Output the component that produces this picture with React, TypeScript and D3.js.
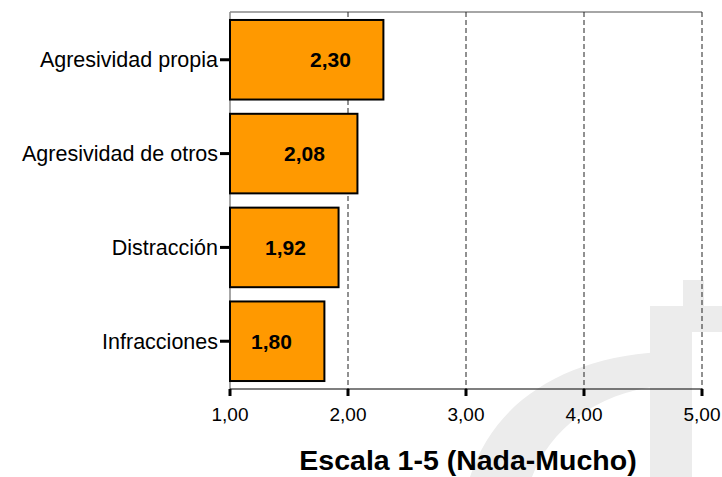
import React from "react";
import * as d3 from "d3";

const categories = ["Agresividad propia", "Agresividad de otros", "Distracción", "Infracciones"];
const values = [2.3, 2.08, 1.92, 1.8];
const valueLabels = ["2,30", "2,08", "1,92", "1,80"];
const xTicks = [1, 2, 3, 4, 5];
const xTickLabels = ["1,00", "2,00", "3,00", "4,00", "5,00"];
const axisTitle = "Escala 1-5 (Nada-Mucho)";

const W = 722;
const H = 477;
const FONT = "'Liberation Sans', Arial, sans-serif";

export default function App() {
  const left = 230;
  const right = 702;
  const top = 12;
  const bottom = 389;
  const x = d3.scaleLinear().domain([1, 5]).range([left, right]);
  const y = d3
    .scaleBand<string>()
    .domain(categories)
    .range([top, bottom])
    .paddingInner(0.152)
    .paddingOuter(0.085);

  return (
    <svg
      width={W}
      height={H}
      style={{ position: "absolute", left: 0, top: 0, background: "#fff" }}
      fontFamily={FONT}
    >
      {/* watermark */}
      <g fill="#ececec" stroke="none">
        <path d="M 470 477 C 495 400, 565 358, 660 352 L 660 386 C 595 393, 550 430, 532 477 Z" />
        <rect x={650} y={318} width={42} height={159} />
        <rect x={683} y={280} width={21} height={40} />
        <rect x={650} y={306} width={72} height={26} />
      </g>

      {/* frame top */}
      <line x1={left} x2={right} y1={top} y2={top} stroke="#888" strokeWidth={1.5} />
      {/* left axis line */}
      <line x1={left} x2={left} y1={top} y2={bottom} stroke="#888" strokeWidth={1.5} />

      {/* grid lines */}
      {xTicks.slice(1).map((t) => (
        <line
          key={t}
          x1={x(t)}
          x2={x(t)}
          y1={top}
          y2={bottom}
          stroke="#222"
          strokeWidth={1}
          strokeDasharray="5,3"
        />
      ))}

      {/* bars */}
      {categories.map((c, i) => (
        <rect
          key={c}
          x={x(1)}
          y={y(c)!}
          width={x(values[i]) - x(1)}
          height={y.bandwidth()}
          fill="#FF9900"
          stroke="#000"
          strokeWidth={2}
        />
      ))}

      {/* value labels */}
      {categories.map((c, i) => (
        <text
          key={c}
          x={x(values[i]) - 53}
          y={y(c)! + y.bandwidth() / 2}
          dy="0.36em"
          textAnchor="middle"
          fontWeight="bold"
          fontSize={21}
          fill="#000"
        >
          {valueLabels[i]}
        </text>
      ))}

      {/* x axis */}
      <line x1={left} x2={right} y1={bottom} y2={bottom} stroke="#000" strokeWidth={1.2} />
      {xTicks.map((t, i) => (
        <g key={t}>
          <rect x={x(t) - 1.5} y={bottom} width={3} height={7} fill="#000" />
          <text x={x(t)} y={421} textAnchor="middle" fontSize={19} fill="#000">
            {xTickLabels[i]}
          </text>
        </g>
      ))}

      {/* y axis ticks and labels */}
      {categories.map((c) => (
        <g key={c}>
          <rect x={left - 10} y={y(c)! + y.bandwidth() / 2 - 1.5} width={10} height={3} fill="#000" />
          <text
            x={left - 12}
            y={y(c)! + y.bandwidth() / 2}
            dy="0.36em"
            textAnchor="end"
            fontSize={21.5}
            fill="#000"
          >
            {c}
          </text>
        </g>
      ))}

      {/* axis title */}
      <text x={(left + right) / 2 + 2} y={470} textAnchor="middle" fontSize={28.5} fontWeight="bold" fill="#000">
        {axisTitle}
      </text>
    </svg>
  );
}
